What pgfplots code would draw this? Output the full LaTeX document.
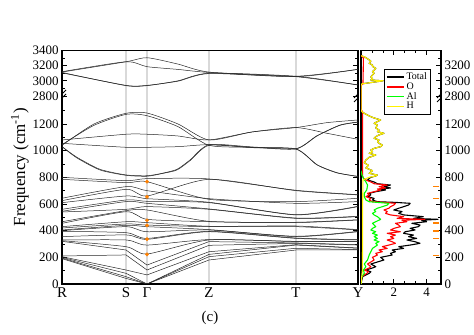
\documentclass[border=0pt]{standalone}
\usepackage{fontspec}
\setmainfont{Liberation Serif}
\usepackage{pgfplots}
\usepackage{pgfplotstable}
\pgfplotsset{compat=1.18}

% phonon branches below 850 cm-1, values at R S G Z T Y
\pgfplotstableread{
x b1 b2 b3 b4 b5 b6 b7 b8 b9 b10 b11 b12 b13 b14 b15 b16 b17 b18 b19 b20 b21 b22 b23 b24
0 190 195 200 205 210 320 325 330 355 395 400 405 420 430 455 467 540 545 560 610 625 643 785 800
64 42 55 80 105 218 255 280 330 368 385 430 440 450 467 542 550 560 618 630 660 710 730 760 775
85 0 0 0 68 105 142 225 292 335 342 392 430 442 460 485 555 580 605 620 640 660 700 767 790
147 180 205 222 242 290 318 330 333 392 395 405 408 430 433 467 470 560 563 610 613 785 640 635 788
234 255 268 292 295 305 308 318 320 342 345 355 358 430 435 460 463 492 495 518 520 700 605 618 703
296 255 258 268 270 292 295 318 320 330 333 392 395 405 408 480 482 505 508 580 583 668 618 643 670
}\lowbands

\pgfplotsset{
  brk/.style={y filter/.expression={y>2000 ? 1410+(y-2800)*0.569 : y}},
  band/.style={black!85, line width=0.5pt, smooth, tension=0.4},
  dos/.style={line width=1.1pt, line join=round},
}

\begin{document}
\begin{tikzpicture}
\path[use as bounding box] (0,0) rectangle (474bp,335bp);

\begin{axis}[
  brk,
  at={(62bp,51bp)}, anchor=south west,
  width=296bp, height=233.5bp, scale only axis,
  xmin=0, xmax=296, ymin=0, ymax=1751,
  xtick={0,64,85,147,234,296},
  xticklabels={R,S,Γ,Z,T,Y},
  xmajorgrids, grid style={gray!30, line width=1.2pt},
  xtick style={draw=none},
  ytick={0,200,400,600,800,1000,1200,1410,1524,1638,1751},
  yticklabels={0,200,400,600,800,1000,1200,2800,3000,3200,3400},
  minor ytick={100,300,500,700,900,1100,1300,1467,1581,1695},
  ytick pos=both, yticklabel pos=left, tick align=inside,
  major tick length=5bp, minor tick length=3bp,
  ytick style={black, line width=0.7pt},
  axis line style={line width=1.3pt},
  /pgf/number format/assume math mode=true,
  y tick label style={font=\fontsize{13}{15}\selectfont},
  x tick label style={font=\fontsize{15}{17}\selectfont},
  ylabel={Frequency (cm\textsuperscript{-1})},
  ylabel style={font=\fontsize{17}{19}\selectfont, at={(axis description cs:-0.142,0.5)}, anchor=center},
  xlabel={(c)},
  xlabel style={font=\fontsize{15}{17}\selectfont, at={(axis description cs:0.5,-0.145)}, anchor=center},
]
% acoustic and low branches: kinked at Gamma
\pgfplotsinvokeforeach{1,...,6}{
  \addplot[band, sharp plot] table[x=x, y=b#1] {\lowbands};
}
\pgfplotsinvokeforeach{7,...,24}{
  \addplot[band] table[x=x, y=b#1] {\lowbands};
}
% branches between 800 and 1300
\addplot[band] coordinates {(0,1040) (32,1200) (64,1280) (85,1282) (116,1200) (147,1080) (190,1140) (234,1173) (265,1210) (296,1230)};
\addplot[band] coordinates {(0,1045) (32,1190) (64,1272) (85,1262) (116,1180) (147,1040) (190,1025) (234,1013) (255,1110) (278,1190) (296,1213)};
\addplot[band] coordinates {(0,1080) (64,1123) (85,1123) (116,1110) (147,1080) (190,1140) (234,1173) (265,1130) (296,1085)};
\addplot[band] coordinates {(0,1055) (64,1025) (85,1025) (116,1030) (147,1045) (190,1025) (234,1013) (255,895) (275,835) (296,805)};
\addplot[band] coordinates {(0,1030) (15,950) (38,860) (64,818) (85,812) (100,830) (115,860) (128,930) (147,1045) (190,1028) (234,1015) (255,1112) (278,1192) (296,1215)};
\addplot[band] coordinates {(0,1030) (15,945) (38,855) (64,815) (85,808) (100,828) (115,855) (128,925) (147,1040) (190,1022) (234,1011) (255,893) (275,833) (296,808)};
% O-H stretching branches
\addplot[band] coordinates {(0,3120) (64,3251) (85,3186) (116,3150) (147,3110) (234,3054) (296,3151)};
\addplot[band] coordinates {(0,3115) (64,3251) (85,3304) (116,3220) (147,3115) (234,3054) (296,2945)};
\addplot[band] coordinates {(0,3110) (64,2936) (85,2936) (116,3000) (147,3100) (234,3060) (296,2945)};
\addplot[band] coordinates {(0,3105) (64,2940) (85,2940) (116,2995) (147,3095) (234,3060) (296,3151)};
% modes marked at Gamma
\addplot[only marks, mark=*, mark size=1.7pt, color=orange] coordinates {(85,767) (85,654) (85,478) (85,440) (85,336) (85,222)};
\draw[line width=0.8pt] ([shift={(-4bp,-6bp)}]axis cs:0,1410) -- ([shift={(4bp,2bp)}]axis cs:0,1410);
\draw[line width=0.8pt] ([shift={(-4bp,-2bp)}]axis cs:0,1410) -- ([shift={(4bp,6bp)}]axis cs:0,1410);
\draw[line width=0.8pt] ([shift={(-4bp,-6bp)}]axis cs:296,1410) -- ([shift={(4bp,2bp)}]axis cs:296,1410);
\draw[line width=0.8pt] ([shift={(-4bp,-2bp)}]axis cs:296,1410) -- ([shift={(4bp,6bp)}]axis cs:296,1410);
\end{axis}

\begin{axis}[
  brk,
  at={(361bp,51bp)}, anchor=south west,
  width=80bp, height=233.5bp, scale only axis,
  xmin=0, xmax=4.88, ymin=0, ymax=1751,
  xtick={0,2,4}, xticklabels={,2,4}, minor x tick num=2,
  xtick pos=both,
  ytick={0,200,400,600,800,1000,1200,1410,1524,1638,1751},
  yticklabels={0,200,400,600,800,1000,1200,2800,3000,3200,{}},
  minor ytick={100,300,500,700,900,1100,1300,1467,1581,1695},
  ytick pos=right, yticklabel pos=right, tick align=inside,
  major tick length=5bp, minor tick length=3bp,
  tick style={black, line width=0.7pt},
  axis line style={line width=1.3pt},
  /pgf/number format/assume math mode=true,
  tick label style={font=\fontsize{13}{15}\selectfont},
  legend style={at={(rel axis cs:0.29,0.92)}, anchor=north west, draw=black, line width=0.6pt,
    font=\fontsize{10}{11}\selectfont, inner sep=1.5pt, row sep=-2.5pt},
  legend image post style={line width=1.6pt},
  legend cell align=left,
]
\addplot[dos, black] coordinates {
(0,0) (0.05,30) (0.1,55) (0.5,80) (0.6,92) (0.3,105) (0.7,120) (0.9,130) (0.6,150) (1.0,165) (1.4,180) (1.2,200) (1.9,217) (1.8,230) (2.1,242) (1.9,255) (2.6,267) (2.3,280) (3.0,292) (3.6,305) (3.3,317) (2.8,330) (3.4,342) (2.9,355) (3.2,367) (2.6,380) (2.7,392) (3.3,405) (3.0,417) (3.5,430) (3.6,442) (3.1,455) (4.0,467) (3.7,478) (4.7,485) (3.2,492) (3.8,505) (2.6,518) (2.3,530) (2.5,543) (2.0,555) (2.3,568) (2.6,580) (2.9,592) (3.0,605) (2.1,612) (1.0,617) (0.7,630) (0.8,642) (0.4,655) (0.6,668) (0.5,680) (0.9,692) (1.5,705) (1.2,712) (1.8,720) (1.4,730) (1.8,742) (1.0,752) (0.8,765) (0.4,780) (0.5,792) (0.6,800) (0.9,810) (1.0,817) (0.5,830) (0.7,850) (0.3,870) (0.45,890) (0.2,910) (0.3,930) (0.5,950) (0.9,967) (0.5,980) (0.7,992) (0.6,1005) (0.8,1017) (1.2,1030) (1.3,1042) (1.1,1055) (1.0,1068) (1.1,1080) (0.8,1092) (0.9,1105) (1.1,1118) (1.4,1130) (1.0,1142) (1.1,1155) (0.9,1170) (1.0,1192) (0.8,1205) (1.0,1218) (1.2,1230) (0.8,1245) (0.5,1260) (0.2,1280) (0.05,1292) (0,1310) (0,2800) (0,2940) (0.05,2960) (1.35,3000) (0.6,3010) (0.7,3030) (0.6,3050) (0.7,3076) (0.8,3100) (0.7,3120) (0.8,3140) (0.9,3164) (0.7,3190) (0.7,3208) (0.5,3230) (0.6,3260) (0.4,3290) (0.2,3317) (0,3330)
};
\addlegendentry{Total}
\addplot[dos, red] coordinates {
(0,0) (0.05,55) (0.35,80) (0.45,92) (0.2,105) (0.5,120) (0.6,130) (0.4,150) (0.6,165) (0.8,180) (0.7,200) (1.0,217) (0.9,230) (1.3,242) (1.1,255) (1.6,267) (1.3,280) (1.7,292) (2.1,305) (1.9,317) (1.6,330) (2.0,342) (1.8,355) (2.1,367) (1.6,380) (2.4,392) (1.8,405) (2.0,417) (2.4,430) (2.3,442) (2.1,455) (2.8,467) (2.5,478) (3.9,485) (2.2,492) (2.6,505) (1.8,518) (1.5,530) (1.6,543) (1.4,555) (1.7,568) (1.8,580) (2.0,592) (2.1,605) (1.4,612) (0.7,617) (0.5,630) (0.6,642) (0.3,655) (0.5,668) (0.4,680) (0.8,692) (1.2,705) (1.0,712) (1.5,720) (1.1,730) (1.6,742) (0.8,752) (0.6,765) (0.3,780) (0.15,792) (0.1,810) (0.1,1290) (0,1310) (0,2800) (0,2940) (0.12,2960) (0.15,3300) (0,3330)
};
\addlegendentry{O}
\addplot[dos, green] coordinates {
(0,0) (0.05,55) (0.2,80) (0.15,105) (0.3,130) (0.2,150) (0.4,180) (0.5,217) (0.6,242) (0.7,267) (1.0,292) (0.9,305) (1.1,317) (0.8,330) (1.0,342) (0.8,355) (1.0,367) (0.7,380) (0.9,392) (0.6,405) (0.7,417) (0.9,430) (0.8,442) (0.7,455) (0.9,467) (1.2,485) (1.0,505) (0.8,518) (0.7,530) (0.9,543) (0.8,555) (1.0,568) (1.3,580) (1.6,592) (1.7,605) (1.0,612) (0.5,617) (0.3,630) (0.2,655) (0.2,680) (0.35,705) (0.4,742) (0.3,765) (0.15,792) (0.05,820) (0,850)
};
\addlegendentry{Al}
\addplot[dos, yellow] coordinates {
(0,0) (0.08,100) (0.1,300) (0.1,600) (0.12,780) (0.5,800) (0.9,810) (1.0,817) (0.5,830) (0.7,850) (0.3,870) (0.45,890) (0.2,910) (0.3,930) (0.5,950) (0.9,967) (0.5,980) (0.7,992) (0.6,1005) (0.8,1017) (1.2,1030) (1.3,1042) (1.1,1055) (1.0,1068) (1.1,1080) (0.8,1092) (0.9,1105) (1.1,1118) (1.4,1130) (1.0,1142) (1.1,1155) (0.9,1170) (1.0,1192) (0.8,1205) (1.0,1218) (1.2,1230) (0.8,1245) (0.5,1260) (0.2,1280) (0.05,1292) (0,1310) (0,2800) (0,2940) (0.05,2960) (1.35,3000) (0.6,3010) (0.7,3030) (0.6,3050) (0.7,3076) (0.8,3100) (0.7,3120) (0.8,3140) (0.9,3164) (0.7,3190) (0.7,3208) (0.5,3230) (0.6,3260) (0.4,3290) (0.2,3317) (0,3330)
};
\addlegendentry{H}
\addplot[only marks, mark=-, mark size=3bp, orange, mark options={line width=1.2pt}, forget plot] coordinates {(4.59,733) (4.59,640) (4.59,457) (4.59,398) (4.59,343) (4.59,211)};
\draw[line width=0.8pt] ([shift={(-4bp,-6bp)}]axis cs:4.88,1410) -- ([shift={(4bp,2bp)}]axis cs:4.88,1410);
\draw[line width=0.8pt] ([shift={(-4bp,-2bp)}]axis cs:4.88,1410) -- ([shift={(4bp,6bp)}]axis cs:4.88,1410);
\end{axis}
\end{tikzpicture}
\end{document}
